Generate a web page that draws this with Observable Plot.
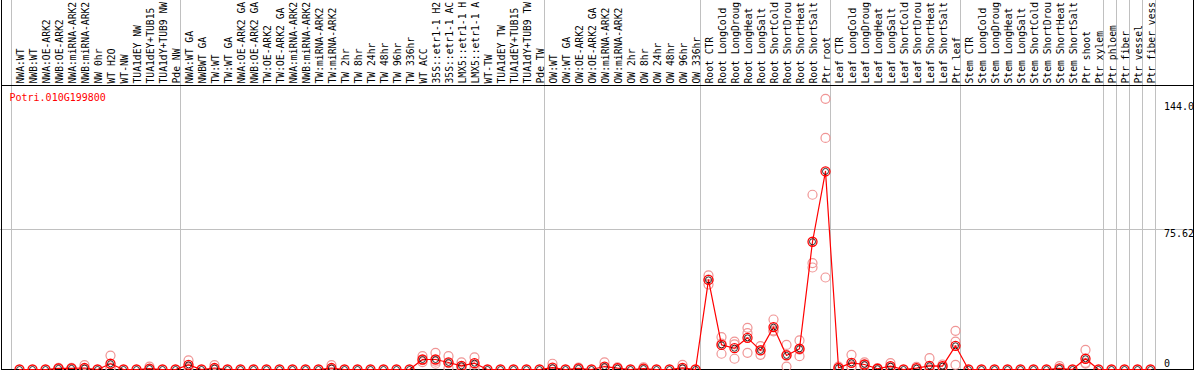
<!DOCTYPE html>
<html><head><meta charset="utf-8">
<script src="https://cdn.jsdelivr.net/npm/d3@7"></script>
<script src="https://cdn.jsdelivr.net/npm/@observablehq/plot@0.6"></script>
<style>html,body{margin:0;padding:0;background:#fff;overflow:hidden}svg{display:block}</style>
</head><body><div id="chart"></div>
<script>
const geneTitle = "Potri.010G199800";

const samples = [
  "NWA:WT","NWB:WT","NWA:OE-ARK2","NWB:OE-ARK2","NWA:miRNA-ARK2","NWB:miRNA-ARK2","NW 0hr","WT H2O","WT-NW","TUA1dEY NW","TUA1dEY+TUB15","TUA1dY+TUB9 NW","Pde NW",
  "NWA:WT GA","NWBWT GA","TW:WT","TW:WT GA","NWA:OE-ARK2 GA","NWB:OE-ARK2 GA","TW:OE-ARK2","TW:OE-ARK2 GA","NWA:miRNA-ARK2","NWB:miRNA-ARK2","TW:miRNA-ARK2","TW:miRNA-ARK2","TW 2hr","TW 8hr","TW 24hr","TW 48hr","TW 96hr","TW 336hr","WT ACC","35S::etr1-1 H2","35S::etr1-1 AC","LMX5::etr1-1 H","LMX5::etr1-1 A","WT-TW","TUA1dEY TW","TUA1dEY+TUB15","TUA1dY+TUB9 TW","Pde TW",
  "OW:WT","OW:WT GA","OW:OE-ARK2","OW:OE-ARK2 GA","OW:miRNA-ARK2","OW:miRNA-ARK2","OW 2hr","OW 8hr","OW 24hr","OW 48hr","OW 96hr","OW 336hr",
  "Root CTR","Root LongCold","Root LongDroug","Root LongHeat","Root LongSalt","Root ShortCold","Root ShortDrou","Root ShortHeat","Root ShortSalt","Ptr root",
  "Leaf CTR","Leaf LongCold","Leaf LongDroug","Leaf LongHeat","Leaf LongSalt","Leaf ShortCold","Leaf ShortDrou","Leaf ShortHeat","Leaf ShortSalt","Ptr leaf",
  "Stem CTR","Stem LongCold","Stem LongDroug","Stem LongHeat","Stem LongSalt","Stem ShortCold","Stem ShortDrou","Stem ShortHeat","Stem ShortSalt","Ptr shoot","Ptr xylem",
  "Ptr phloem","Ptr fiber","Ptr vessel","Ptr fiber vess"
];

// column index where each sample group starts (plus the end)
const groupBreaks = [0, 13, 41, 53, 63, 73, 84, 85, 86, 87, 88];

const means = [
  0,0,0,0.6,0.6,0.8,0,3.1,0,0,0.5,0,0,
  2.5,0,0.8,0,0,0,0,0,0,0,0,0.8,0,0,0,0,0,0,5.4,5.4,3.8,2.0,3.4,0,0,0,0,0,
  1.0,0,0.6,0,1.6,0.7,0,0.5,0,0,0.9,0,
  48.4,13.3,11.5,17.1,10.3,22.9,7.6,11.2,69.0,107.0,
  0.9,3.6,2.7,0.4,1.8,0,0.7,2.0,1.8,12.8,
  0,0,0,0,0,0,0,0.6,0,5.8,0,
  0,0,0,0
];

const replicates = [
  [],[],[],[0.9,0.5,0.4],[0.9,0.5,0.4],[2.4,0,0],[],[7.5,1.0,0.8],[],[],[1.5,0,0],[],[],
  [4.9,1.6,1.0],[],[2.4,0,0],[],[],[],[],[],[],[],[],[2.4,0,0],[],[],[],[],[],[],
  [7.2,5.0,4.0],[9.0,4.2,3.1],[7.2,3.4,0.8],[3.8,1.6,0.6],[6.6,2.8,0.8],[],[],[],[],[],
  [3.1,0,0],[],[1.0,0.5,0.3],[],[3.8,0.8,0.2],[1.2,0.6,0.3],[],[1.2,0.3,0],[],[],[2.5,0.2,0],[],
  [50.8,48.5,45.9],[17.5,14.0,8.5],[15.1,13.6,5.8],[22.5,19.6,9.0],[12.6,10.4,7.9],[27.0,21.1,20.6],[13.3,7.9,1.6],[15.7,10.7,7.2],[94.4,57.5,55.1],[146.2,125.1,49.7],
  [1.5,0.8,0.4],[7.9,1.8,1.1],[3.9,2.6,1.6],[0.8,0.3,0.1],[3.4,1.2,0.8],[],[1.4,0.5,0.2],[6.1,0,0],[2.7,1.6,1.1],[20.9,15.1,2.5],
  [],[],[],[],[],[],[],[1.8,0,0],[],[10.6,3.6,3.2],[],
  [],[],[],[]
];

const gridValues = [75.62];
const yTickValues = [0, 75.62, 144.0];
const yTickLabels = ["0", "75.62", "144.0"];

const meanData = means.map((v, i) => ({i, v}));
const repData = replicates.flatMap((r, i) => r.map(v => ({i, v})));
const tickData = yTickValues.map((v, k) => ({v, label: yTickLabels[k]}));

const font = "'DejaVu Sans Mono', monospace";
const grey = "#c0c0c0";

const chart = Plot.plot({
  width: 1194,
  height: 370,
  margin: 0,
  x: {type: "linear", domain: [0, 87], range: [19, 1150], axis: null},
  y: {type: "linear", domain: [0, 75.62], range: [369, 229], axis: null},
  style: {fontFamily: font, fontSize: "10px", background: "#fff"},
  marks: [
    Plot.ruleY(gridValues, {y: d => d, stroke: grey, strokeWidth: 1}),
    Plot.ruleX(groupBreaks, {x: d => d - 8 / 13, stroke: grey, strokeWidth: 1}),
    Plot.frame({stroke: "#000", insetTop: -1, insetLeft: 1, insetRight: 1, insetBottom: 1}),
    Plot.frame({stroke: "#000", insetTop: 85, insetLeft: 1, insetRight: 1, insetBottom: 1}),
    Plot.text(samples, {
      x: (d, i) => i, text: d => d, frameAnchor: "top", dy: 83, dx: 1,
      rotate: -90, textAnchor: "start", lineAnchor: "middle",
      fontFamily: font, fontSize: 9.7, fill: "#000"
    }),
    Plot.text([geneTitle], {
      frameAnchor: "top-left", dx: 9, dy: 93.5, text: d => d,
      textAnchor: "start", lineAnchor: "top", fill: "#ff0000", fontFamily: font, fontSize: 10
    }),
    Plot.text(tickData.filter(d => d.v > 0), {
      y: "v", text: "label", frameAnchor: "right", dx: -30.5,
      textAnchor: "start", lineAnchor: "top", fill: "#000", fontFamily: font, fontSize: 10
    }),
    Plot.text(tickData.filter(d => d.v === 0), {
      y: "v", text: "label", frameAnchor: "right", dx: -30.5, dy: -10,
      textAnchor: "start", lineAnchor: "top", fill: "#000", fontFamily: font, fontSize: 10
    }),
    Plot.dot(repData, {x: "i", y: "v", r: 4.5, stroke: "#f09595", strokeWidth: 1.2, fill: "none"}),
    Plot.line(meanData, {x: "i", y: "v", stroke: "#ff0000", strokeWidth: 1.2}),
    Plot.dot(meanData, {x: "i", y: "v", r: 4.5, stroke: "#ff0000", strokeWidth: 1.3, fill: "none"}),
    Plot.dot(meanData, {x: "i", y: "v", r: 3, stroke: "#000", strokeWidth: 0.8, fill: "none"})
  ]
});
document.getElementById("chart").append(chart);
</script>
</body></html>
